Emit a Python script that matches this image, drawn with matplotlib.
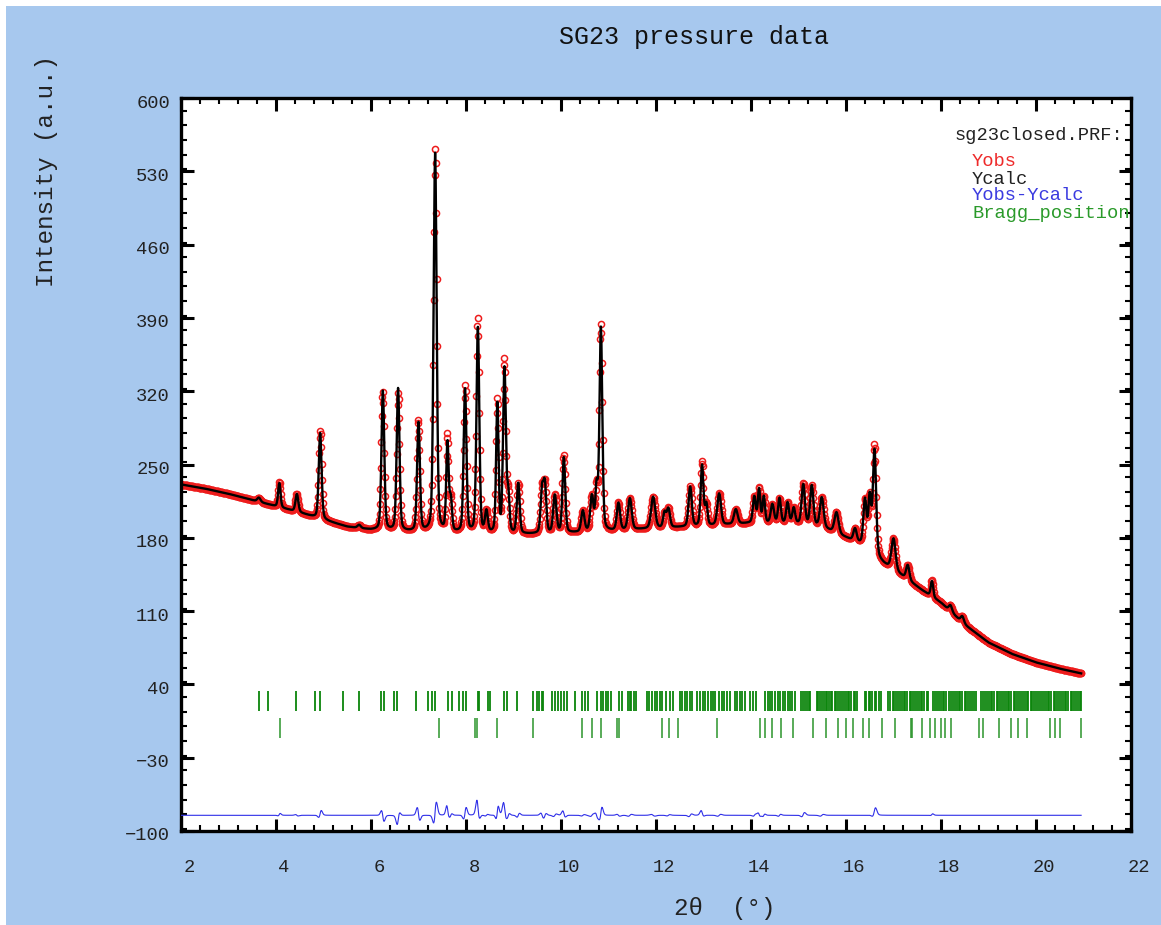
import numpy as np
import matplotlib
matplotlib.use("Agg")
import matplotlib.pyplot as plt
from matplotlib.patches import Rectangle
import matplotlib.transforms as mtransforms
from matplotlib.ticker import MultipleLocator

W, H, DPI = 1161, 925, 100
MONO = ["Liberation Mono", "DejaVu Sans Mono"]

# ---------------- data ----------------
two_theta_start, two_theta_end, two_theta_step = 2.0, 20.95, 0.01

bkg_pos = [2.0, 2.5, 3.0, 3.5, 4.0, 4.5, 5.0, 5.5, 6.0, 7.0, 8.0, 9.0, 10.0, 11.0,
           12.0, 13.0, 14.0, 15.0, 15.5, 16.0, 16.3, 16.8, 17.2, 17.6, 18.0, 18.5,
           19.0, 19.5, 20.0, 20.5, 21.0]
bkg_val = [231, 227, 222, 216, 210, 204, 197, 190.5, 187.5, 185, 184, 183, 184, 186,
           189, 191, 194, 193, 190, 180, 174, 155, 143, 130, 118, 97,
           80, 69, 61, 55, 50]

peak_pos = [3.64, 4.07, 4.44, 4.93, 5.75, 6.25, 6.57, 7.00, 7.35, 7.61, 7.68, 7.98,
            8.25, 8.43, 8.66, 8.81, 8.89, 9.10, 9.60, 9.66, 9.87, 10.06, 10.46, 10.65,
            10.75, 10.84, 11.21, 11.45, 11.94, 12.18, 12.26, 12.72, 12.97, 13.06, 13.33,
            13.68, 14.07, 14.17, 14.27, 14.45, 14.60, 14.77, 14.90, 15.10, 15.28, 15.49,
            15.80, 16.19, 16.40, 16.50, 16.60, 17.00, 17.30, 17.81, 18.20, 18.45]
peak_h_calc = [4, 23, 17, 82, 3, 133, 136, 104, 362, 84, 30, 137,
               196, 20, 123, 157, 35, 48, 40, 45, 36, 72, 20, 33,
               40, 194, 26, 30, 30, 14, 18, 38, 58, 20, 30,
               14, 25, 32, 25, 18, 24, 20, 15, 38, 38, 28,
               20, 12, 45, 50, 100, 30, 14, 15, 6, 6]
peak_h_obs = [4, 24, 17, 84, 3, 132, 131, 106, 366, 91, 30, 140,
              205, 20, 127, 165, 35, 48, 41, 45, 36, 74, 20, 33,
              40, 197, 26, 30, 30, 14, 18, 38, 61, 20, 30,
              14, 25, 33, 25, 18, 24, 20, 15, 39, 38, 28,
              20, 12, 45, 50, 105, 30, 14, 16, 6, 6]
peak_fwhm = [0.08, 0.06, 0.07, 0.07, 0.08, 0.07, 0.07, 0.07, 0.075, 0.06, 0.06, 0.07,
             0.07, 0.07, 0.06, 0.07, 0.06, 0.07, 0.07, 0.07, 0.08, 0.07, 0.08, 0.08,
             0.06, 0.07, 0.08, 0.09, 0.10, 0.07, 0.08, 0.08, 0.07, 0.06, 0.09,
             0.09, 0.07, 0.06, 0.06, 0.08, 0.07, 0.07, 0.07, 0.08, 0.08, 0.09,
             0.10, 0.08, 0.08, 0.07, 0.08, 0.10, 0.08, 0.06, 0.08, 0.08]
peak_shift_obs = [0.0, 0.002, -0.002, 0.002, 0.0, -0.002, 0.002, -0.003, 0.0015, -0.002, 0.002, 0.002,
                  -0.002, 0.002, 0.002, -0.002, 0.002, 0.002, -0.002, 0.002, 0.002, -0.002, 0.002, 0.002,
                  -0.002, 0.0015, -0.002, 0.002, -0.002, 0.0, 0.002, 0.002, -0.002, 0.0, 0.002,
                  0.0, 0.002, -0.002, 0.002, 0.0, 0.002, 0.0, 0.0, 0.003, 0.0, 0.002,
                  0.0, 0.0, 0.0, 0.0, 0.002, 0.0, 0.0, 0.002, 0.0, 0.0]
diff_offset = -85

bragg_phase1 = [3.64, 3.84, 4.42, 4.82, 4.93, 5.42, 5.75, 6.20, 6.27, 6.48, 6.55, 6.95,
                7.21, 7.28, 7.35, 7.63, 7.70, 7.86, 7.93, 8.00, 8.25, 8.28, 8.47, 8.51,
                8.80, 8.87, 9.07, 9.40, 9.49, 9.54, 9.59, 9.63, 9.80, 9.87, 9.94, 9.99,
                10.06, 10.13, 10.29, 10.45, 10.50, 10.57, 10.76, 10.84, 10.89, 10.94, 10.99,
                11.06, 11.22, 11.29, 11.41, 11.45, 11.48, 11.53, 11.57, 11.80, 11.85, 11.91,
                11.97, 12.02, 12.08, 12.13, 12.22, 12.29, 12.36, 12.50, 12.55, 12.60, 12.65,
                12.71, 12.76, 12.86, 12.93, 12.99, 13.04, 13.09, 13.15, 13.20, 13.25, 13.32,
                13.39, 13.44, 13.49, 13.55, 13.66, 13.71, 13.76, 13.82, 13.87, 13.97, 14.04,
                14.11, 14.29, 14.35, 14.39, 14.45, 14.50, 14.56, 14.61, 14.67, 14.72, 14.77,
                14.82, 14.87, 14.92, 15.05, 15.09, 15.14, 15.17, 15.22, 15.25, 15.38, 15.42,
                15.46, 15.49, 15.53, 15.57, 15.60, 15.65, 15.68, 15.71, 15.76, 15.79, 15.83,
                15.88, 15.91, 15.95, 15.99, 16.04, 16.07, 16.11, 16.16, 16.19, 16.24, 16.39,
                16.43, 16.48, 16.51, 16.55, 16.60, 16.64, 16.69, 16.73, 16.89, 16.93, 16.98,
                17.01, 17.05, 17.10, 17.13, 17.17, 17.22, 17.25, 17.29, 17.34, 17.37, 17.41,
                17.46, 17.49, 17.53, 17.58, 17.61, 17.65, 17.70, 17.73, 17.83, 17.87, 17.92,
                17.95, 17.99, 18.04, 18.07, 18.10, 18.17, 18.21, 18.26, 18.29, 18.33, 18.38,
                18.41, 18.45, 18.50, 18.53, 18.57, 18.62, 18.65, 18.69, 18.73, 18.84, 18.88,
                18.93, 18.96, 19.00, 19.05, 19.08, 19.12, 19.17, 19.20, 19.24, 19.29, 19.32,
                19.36, 19.41, 19.44, 19.48, 19.53, 19.56, 19.60, 19.65, 19.68, 19.72, 19.77,
                19.80, 19.84, 19.89, 19.92, 19.96, 20.01, 20.04, 20.08, 20.13, 20.16, 20.20,
                20.25, 20.28, 20.32, 20.37, 20.40, 20.44, 20.49, 20.52, 20.56, 20.61, 20.64,
                20.68, 20.73, 20.76, 20.80, 20.85, 20.88, 20.92, 20.95]
bragg_phase2 = [4.08, 7.43, 8.18, 8.24, 8.66, 9.40, 10.45, 10.66, 10.85, 11.18, 11.22,
                12.12, 12.27, 12.46, 13.28, 14.19, 14.29, 14.45, 14.64, 14.88, 15.31,
                15.57, 15.84, 16.01, 16.14, 16.36, 16.49, 16.75, 17.03, 17.37, 17.40,
                17.60, 17.76, 17.88, 17.99, 18.09, 18.20, 18.81, 18.88, 19.23, 19.47,
                19.63, 19.80, 20.30, 20.40, 20.51, 20.95]
bragg_row1_span = (15, 34)
bragg_row2_span = (-11, 8)

x_ticks = [2, 4, 6, 8, 10, 12, 14, 16, 18, 20, 22]
y_ticks = [-100, -30, 40, 110, 180, 250, 320, 390, 460, 530, 600]

# ---------------- profile (pseudo-Voigt peaks on linear background) ----------------
tt = np.arange(two_theta_start, two_theta_end + two_theta_step / 2, two_theta_step)
bkg = np.interp(tt, bkg_pos, bkg_val)


def pvoigt(x, p, h, w, eta=0.3):
    z = (x - p) / w
    g = np.exp(-4 * np.log(2) * z ** 2)
    lo = 1.0 / (1.0 + 4 * z ** 2)
    return h * (eta * lo + (1 - eta) * g)


ycalc = bkg.copy()
yobs = bkg.copy()
for p, hc, ho, w, s in zip(peak_pos, peak_h_calc, peak_h_obs, peak_fwhm, peak_shift_obs):
    ycalc += pvoigt(tt, p, hc, w)
    yobs += pvoigt(tt, p + s, ho, w)
ydiff = yobs - ycalc + diff_offset

# ---------------- figure ----------------
fig = plt.figure(figsize=(W / DPI, H / DPI), dpi=DPI, facecolor="white")
fig.patches.append(Rectangle((6 / W, 0), 1 - 6 / W, 1 - 6 / H, transform=fig.transFigure,
                             facecolor="#a7c8ee", edgecolor="none", zorder=-10))

L, R, T, B = 181, 1131, 98, 831
ax = fig.add_axes([L / W, 1 - B / H, (R - L) / W, (B - T) / H])
ax.set_facecolor("white")

ax.plot(tt, yobs, linestyle="none", marker="o", markersize=4.4, markerfacecolor="none",
        markeredgecolor="#ee1c1c", markeredgewidth=1.1, zorder=2)
ax.plot(tt, ycalc, color="black", linewidth=1.7, zorder=3)
ax.plot(tt, ydiff, color="#2f2fe8", linewidth=0.8, zorder=3)
ax.vlines(bragg_phase1, bragg_row1_span[0], bragg_row1_span[1], color="#0b850b",
          linewidth=1.3, zorder=2)
ax.vlines(bragg_phase2, bragg_row2_span[0], bragg_row2_span[1], color="#2b952b",
          linewidth=1.1, zorder=2)

ax.set_xlim(2, 22)
ax.set_ylim(-100, 600)
ax.set_xticks(x_ticks)
ax.set_yticks(y_ticks)
ax.xaxis.set_minor_locator(MultipleLocator(0.4))
ax.yaxis.set_minor_locator(MultipleLocator(14))
ax.tick_params(which="both", direction="in", top=True, right=True, colors="black",
               labelcolor="#222222")
ax.tick_params(which="major", length=9, width=2.2, labelsize=13.5)
ax.tick_params(which="minor", length=4.5, width=1.5)
ax.tick_params(axis="x", which="major", pad=20)
ax.tick_params(axis="y", which="major", pad=8)
for sp in ax.spines.values():
    sp.set_linewidth(2.4)

for lab in ax.get_xticklabels():
    lab.set_fontfamily(MONO)
    lab.set_transform(lab.get_transform() + mtransforms.ScaledTranslation(8 / DPI, 0, fig.dpi_scale_trans))
for lab in ax.get_yticklabels():
    lab.set_fontfamily(MONO)
    lab.set_transform(lab.get_transform() + mtransforms.ScaledTranslation(0, -3 / DPI, fig.dpi_scale_trans))


def ftext(px, py, s, **kw):
    fig.text(px / W, 1 - py / H, s, family=MONO, **kw)


ftext(694, 37, "SG23 pressure data", fontsize=18, ha="center", va="center", color="#111111")
ftext(47, 171, "Intensity (a.u.)", fontsize=17.5, ha="center", va="center", rotation=90,
      color="#222222")
ftext(725, 909, "2θ  (°)", fontsize=17.5, ha="center", va="center", color="#222222")

ftext(1123, 136, "sg23closed.PRF:", fontsize=13.5, ha="right", va="center", color="#222222")
ftext(972, 162, "Yobs", fontsize=13.5, ha="left", va="center", color="#ee2a2a")
ftext(972, 179, "Ycalc", fontsize=13.5, ha="left", va="center", color="#222222")
ftext(972, 196, "Yobs-Ycalc", fontsize=13.5, ha="left", va="center", color="#3b3be0")
ftext(972, 213, "Bragg_position", fontsize=13.5, ha="left", va="center", color="#2a9a2a")

fig.savefig("out.png", dpi=DPI, facecolor=fig.get_facecolor())
